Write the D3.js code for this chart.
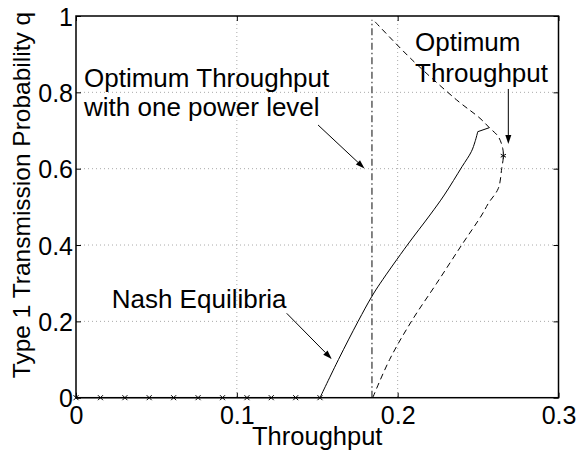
<!DOCTYPE html>
<html><head><meta charset="utf-8">
<script src="https://cdn.jsdelivr.net/npm/d3@7"></script>
<style>body{margin:0;background:#fff}svg{display:block}text{font-family:"Liberation Sans",Arial,Helvetica,sans-serif}</style>
</head><body><svg id="c" width="580" height="451"></svg>
<script>
const xTicks = [0, 0.1, 0.2, 0.3];
const yTicks = [0, 0.2, 0.4, 0.6, 0.8, 1];
const xTickLabels = ["0", "0.1", "0.2", "0.3"];
const yTickLabels = ["0", "0.2", "0.4", "0.6", "0.8", "1"];
// Nash equilibria (solid)
const nashX = [0.1517, 0.1632, 0.1754, 0.1839, 0.1892, 0.2060, 0.2201, 0.2290, 0.2400, 0.2458, 0.2481, 0.2498];
const nashQ = [0, 0.100, 0.200, 0.265, 0.300, 0.400, 0.4787, 0.5311, 0.6052, 0.6445, 0.6707, 0.6969];
const nashTailX = [0.2498, 0.2570];
const nashTailQ = [0.6969, 0.7074];
// markers on q = 0
const zeroX = [0, 0.0152, 0.0304, 0.0455, 0.0607, 0.0759, 0.0911, 0.1063, 0.1214, 0.1366, 0.1517];
const zeroQ = [0, 0, 0, 0, 0, 0, 0, 0, 0, 0, 0];
// Optimum throughput (dashed)
const optX = [0.1845, 0.1950, 0.2087, 0.2243, 0.2398, 0.2523, 0.2564, 0.2626, 0.2647, 0.2657, 0.2653, 0.2626, 0.2570, 0.2512, 0.2367, 0.2090, 0.1859];
const optQ = [0, 0.100, 0.201, 0.300, 0.400, 0.4787, 0.5093, 0.5486, 0.601, 0.6314, 0.6534, 0.6838, 0.7074, 0.732, 0.780, 0.885, 0.985];
// optimum point (star)
const starX = [0.2657];
const starQ = [0.634];
// optimum with one power level (dash-dot)
const onePowX = [0.184, 0.184];
const onePowQ = [0, 0.99];

const m = {left: 76, right: 558.5, top: 16, bottom: 397.7};
const x = d3.scaleLinear().domain([0, 0.3]).range([m.left, m.right]);
const y = d3.scaleLinear().domain([0, 1]).range([m.bottom, m.top]);
const svg = d3.select("#c");
const FS = 25, FA = 26;

// grid
const g = svg.append("g");
g.selectAll(".gx").data(xTicks.slice(1, -1)).join("line")
  .attr("x1", d => x(d)).attr("x2", d => x(d)).attr("y1", m.top).attr("y2", m.bottom)
  .attr("stroke", "#aaa").attr("stroke-width", 1).attr("stroke-dasharray", "1,3");
g.selectAll(".gy").data(yTicks.slice(1, -1)).join("line")
  .attr("y1", d => y(d)).attr("y2", d => y(d)).attr("x1", m.left).attr("x2", m.right)
  .attr("stroke", "#aaa").attr("stroke-width", 1).attr("stroke-dasharray", "1,3");

// axes
const tl = 5;
const axB = svg.append("g").attr("transform", `translate(0,${m.bottom})`)
  .call(d3.axisBottom(x).tickValues(xTicks).tickFormat((d, i) => xTickLabels[i]).tickSizeInner(-tl).tickSizeOuter(0).tickPadding(20));
const axL = svg.append("g").attr("transform", `translate(${m.left},0)`)
  .call(d3.axisLeft(y).tickValues(yTicks).tickFormat((d, i) => yTickLabels[i]).tickSizeInner(-tl).tickSizeOuter(0).tickPadding(8));
const axT = svg.append("g").attr("transform", `translate(0,${m.top})`)
  .call(d3.axisTop(x).tickValues(xTicks).tickFormat("").tickSizeInner(-tl).tickSizeOuter(0));
const axR = svg.append("g").attr("transform", `translate(${m.right},0)`)
  .call(d3.axisRight(y).tickValues(yTicks).tickFormat("").tickSizeInner(-tl).tickSizeOuter(0));
[axB, axL, axT, axR].forEach(a => {
  a.select(".domain").remove();
  a.selectAll(".tick line").attr("stroke", "#000").attr("stroke-width", 1);
  a.selectAll("text").attr("font-size", FS).attr("fill", "#000").attr("font-family", '"Liberation Sans",Arial,sans-serif');
});
axB.selectAll("text").attr("dy", null).attr("y", 26.5);
axL.selectAll("text").attr("dy", "0.36em").attr("x", -3);

// lines
const line = d3.line().x(d => x(d[0])).y(d => y(d[1]));
const smooth = d3.line().x(d => x(d[0])).y(d => y(d[1])).curve(d3.curveCatmullRom.alpha(0.5));
const pts = (a, b) => a.map((v, i) => [v, b[i]]);
svg.append("path").datum(pts(onePowX, onePowQ)).attr("d", line)
  .attr("fill", "none").attr("stroke", "#777").attr("stroke-width", 1.8).attr("stroke-dasharray", "7,3,1.5,3");
svg.append("path").datum(pts(optX, optQ)).attr("d", smooth)
  .attr("fill", "none").attr("stroke", "#000").attr("stroke-width", 1).attr("stroke-dasharray", "6,4");
svg.append("path").datum(pts(zeroX, zeroQ)).attr("d", line)
  .attr("fill", "none").attr("stroke", "#000").attr("stroke-width", 1);
svg.append("path").datum(pts(nashX, nashQ)).attr("d", smooth)
  .attr("fill", "none").attr("stroke", "#000").attr("stroke-width", 1);
svg.append("path").datum(pts(nashTailX, nashTailQ)).attr("d", line)
  .attr("fill", "none").attr("stroke", "#000").attr("stroke-width", 1);

// x markers
const ms = 2.5;
svg.append("g").selectAll("path").data(pts(zeroX, zeroQ)).join("path")
  .attr("d", d => { const cx = x(d[0]), cy = y(d[1]); return `M${cx-ms},${cy-ms}L${cx+ms},${cy+ms}M${cx-ms},${cy+ms}L${cx+ms},${cy-ms}`; })
  .attr("stroke", "#000").attr("stroke-width", 1);
// star
const ss = 3;
svg.append("g").selectAll("path").data(pts(starX, starQ)).join("path")
  .attr("d", d => { const cx = x(d[0]), cy = y(d[1]);
    return `M${cx},${cy-ss}L${cx},${cy+ss}M${cx-ss*0.87},${cy-ss*0.5}L${cx+ss*0.87},${cy+ss*0.5}M${cx-ss*0.87},${cy+ss*0.5}L${cx+ss*0.87},${cy-ss*0.5}`; })
  .attr("stroke", "#000").attr("stroke-width", 1);

// box
svg.append("rect").attr("x", m.left).attr("y", m.top).attr("width", m.right - m.left).attr("height", m.bottom - m.top)
  .attr("fill", "none").attr("stroke", "#000").attr("stroke-width", 1.5);

// annotations
const arrows = [
  [0.1505, 0.7144, 0.1794, 0.6005],
  [0.2688, 0.8088, 0.2688, 0.6647],
  [0.1310, 0.2211, 0.1590, 0.1014]
];
arrows.forEach(a => {
  const x1 = x(a[0]), y1 = y(a[1]), x2 = x(a[2]), y2 = y(a[3]);
  const ang = Math.atan2(y2 - y1, x2 - x1), L = 9, Wd = 3;
  const bx = x2 - L * Math.cos(ang), by = y2 - L * Math.sin(ang);
  svg.append("line").attr("x1", x1).attr("y1", y1).attr("x2", bx).attr("y2", by).attr("stroke", "#000").attr("stroke-width", 1);
  svg.append("path").attr("d", `M${x2},${y2}L${bx - Wd*Math.sin(ang)},${by + Wd*Math.cos(ang)}L${bx + Wd*Math.sin(ang)},${by - Wd*Math.cos(ang)}Z`).attr("fill", "#000");
});
const notes = [
  {t: ["Optimum Throughput", "with one power level"], x: 0.005, q: 0.8127, lh: 29},
  {t: ["Optimum", "Throughput"], x: 0.2108, q: 0.9083, lh: 30.5},
  {t: ["Nash Equilibria"], x: 0.0222, q: 0.2342, lh: 0}
];
notes.forEach(n => {
  n.t.forEach((s, i) => svg.append("text").attr("x", x(n.x)).attr("y", y(n.q) + i * n.lh)
    .attr("font-size", FA).attr("fill", "#000").text(s));
});

// axis titles
svg.append("text").attr("x", (m.left + m.right) / 2).attr("y", 444.5).attr("text-anchor", "middle")
  .attr("font-size", 25.5).text("Throughput");
svg.append("text").attr("transform", "translate(29.5,195) rotate(-90)").attr("text-anchor", "middle")
  .attr("font-size", 24.5).text("Type 1 Transmission Probability q");
</script></body></html>
